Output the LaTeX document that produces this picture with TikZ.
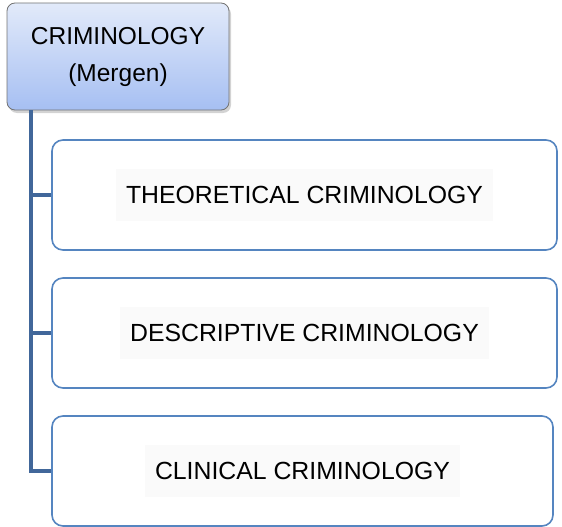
\documentclass[tikz,border=0pt]{standalone}
\usepackage{fontspec}
\setmainfont{Liberation Sans}
\usetikzlibrary{shadows}
\definecolor{linkblue}{HTML}{41679A}
\definecolor{boxblue}{HTML}{5585C0}
\definecolor{roottop}{HTML}{E2EAFA}
\definecolor{rootbot}{HTML}{A6BFF2}
\tikzset{
  rootbox/.style={draw=black!55, line width=0.8pt, rounded corners=8pt,
    top color=roottop, bottom color=rootbot,
    drop shadow={shadow xshift=2pt, shadow yshift=-3pt, opacity=0.35},
    minimum width=222pt, minimum height=107pt, align=center,
    font=\fontsize{24.5}{37}\selectfont, inner sep=0pt},
  childbox/.style={draw=boxblue, line width=1.6pt, rounded corners=11pt,
    fill=white, minimum height=110pt, inner sep=0pt},
  childtext/.style={fill=black!2, inner xsep=10pt, inner ysep=0pt,
    minimum height=52pt, font=\fontsize{24.8}{28}\selectfont},
  link/.style={draw=linkblue, line width=3.5pt}
}
\begin{document}
\begin{tikzpicture}[x=1pt,y=-1pt]
\useasboundingbox (0,0) rectangle (562,527);
\node[rootbox] (root) at (118,56.5) {CRIMINOLOGY\\(Mergen)};
\node[childbox, minimum width=505pt] (c1) at (304.5,195) {};
\node[childbox, minimum width=505pt] (c2) at (304.5,333) {};
\node[childbox, minimum width=501pt] (c3) at (302.5,471) {};
\node[childtext] (t1) at (c1) {THEORETICAL CRIMINOLOGY};
\node[childtext] (t2) at (c2) {DESCRIPTIVE CRIMINOLOGY};
\node[childtext] (t3) at (c3) {CLINICAL CRIMINOLOGY};
\coordinate (top) at (31,0 |- root.south);
\draw[link] (top) |- (c3.west);
\draw[link] (top |- c1.west) -- (c1.west);
\draw[link] (top |- c2.west) -- (c2.west);
\end{tikzpicture}
\end{document}
